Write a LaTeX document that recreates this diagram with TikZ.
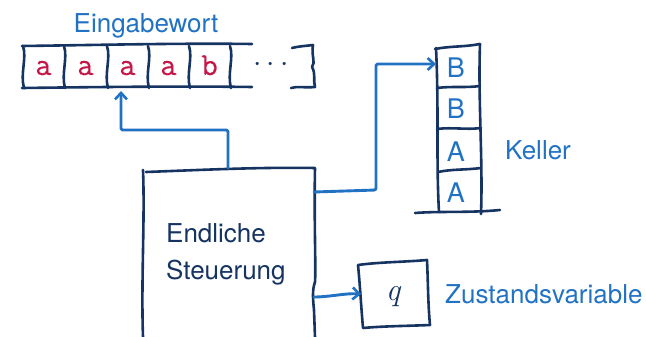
\RequirePackage{fix-cm}
\documentclass[tikz,border=0pt]{standalone}
\usepackage{fontspec}
\setmainfont{TeX Gyre Heros}
\newfontfamily\lmroman{Latin Modern Roman}
\newfontfamily\lmmono[FakeBold=0.4]{Latin Modern Mono}
\usetikzlibrary{arrows.meta}
\definecolor{ink}{RGB}{22,52,98}
\definecolor{pen}{RGB}{34,114,196}
\definecolor{sym}{RGB}{196,22,72}
\begin{document}
\begin{tikzpicture}[x=1pt,y=-1pt,
  sketch/.style={draw=ink,line width=2.6pt,line cap=round,line join=round},
  arrowline/.style={draw=pen,line width=2.9pt,line cap=round,line join=round,rounded corners=2pt,
    -{Straight Barb[length=6.5pt,width=12pt,line width=2.6pt]}},
  lbl/.style={text=pen,font=\fontsize{26}{30}\selectfont,inner sep=0pt},
  steuer/.style={text=ink,font=\fontsize{26}{30}\selectfont,inner sep=0pt,anchor=base west},
  tapesym/.style={text=sym,font=\lmmono\fontsize{32}{32}\selectfont,inner sep=0pt,anchor=base},
  stacksym/.style={text=pen,font=\fontsize{27}{30}\selectfont,inner sep=0pt,anchor=base},
]
\useasboundingbox (0,0) rectangle (646,337);

% ---- input tape ----
\node[lbl,anchor=base] (title) at (146,33) {Eingabewort};
\draw[sketch] (22,46) .. controls (100,45) and (180,43) .. (252,44);
\draw[sketch] (22,88) .. controls (100,87) and (180,86) .. (252,87);
\foreach \x in {23,64,107,148,189,230}
  \draw[sketch] (\x,46) .. controls (\x+4,58) and (\x-3,74) .. (\x+1,88);
\node[tapesym] (t1) at (43.5,75) {a};
\node[tapesym] (t2) at (85.5,75) {a};
\node[tapesym] (t3) at (127.5,75) {a};
\node[tapesym] (t4) at (168.5,75) {a};
\node[tapesym] (t5) at (209.5,75) {b};
\node[text=ink,font=\fontsize{30}{30}\selectfont,inner sep=0pt] (dots) at (271,65) {$\cdots$};
\draw[sketch] (292,48) .. controls (300,46) and (306,46) .. (313,45)
  .. controls (311,56) and (316,62) .. (312,67)
  .. controls (316,74) and (313,80) .. (315,87)
  .. controls (305,88) and (297,86) .. (291,88);
\coordinate (tapehead) at (121,91);

% ---- finite control ----
\draw[sketch] (143,337) .. controls (141,280) and (145,220) .. (143,170);
\draw[sketch] (146,172) .. controls (200,170) and (260,167) .. (315,168)
  .. controls (314,220) and (316,270) .. (315,282)
  .. controls (312,290) and (313,300) .. (314,310)
  -- (315,337);
\node[steuer] (endl) at (166,242) {Endliche};
\node[steuer] (steu) at (166,279) {Steuerung};
\coordinate (ctrlTop) at (228,168);
\coordinate (ctrlR1) at (314,192);
\coordinate (ctrlR2) at (314,297);

% ---- stack ----
\draw[sketch] (436,48) .. controls (439,110) and (436,160) .. (439,212);
\draw[sketch] (480,44) .. controls (478,100) and (483,160) .. (481,214);
\draw[sketch] (435,49) .. controls (450,46) and (465,47) .. (480,44);
\draw[sketch] (437,88) .. controls (452,86) and (466,88) .. (480,86);
\draw[sketch] (437,129) .. controls (452,127) and (466,130) .. (481,128);
\draw[sketch] (438,172) .. controls (452,169) and (466,170) .. (481,168);
\draw[sketch] (415,213) .. controls (440,211) and (470,213) .. (500,210);
\node[stacksym] (s1) at (456,78) {B};
\node[stacksym] (s2) at (456,119) {B};
\node[stacksym] (s3) at (456,161) {A};
\node[stacksym] (s4) at (456,202) {A};
\node[lbl,anchor=base west] (keller) at (505,159) {Keller};
\coordinate (stackhead) at (436,64);

% ---- state register ----
\draw[sketch] (358,265) .. controls (380,262) and (405,262) .. (427,260)
  .. controls (428,280) and (428,305) .. (430,325)
  .. controls (408,326) and (385,326) .. (363,328)
  .. controls (361,305) and (360,285) .. (358,265);
\node[text=ink,font=\lmroman\itshape\fontsize{32}{32}\selectfont,inner sep=0pt,anchor=base] (q) at (393,300) {q};
\coordinate (qhead) at (361,294);
\node[lbl,anchor=base west] (zustand) at (445,303) {Zustandsvariable};

% ---- connectors ----
\draw[arrowline] (ctrlTop) -- (ctrlTop |- 0,130) -- (tapehead |- 0,130) -- (tapehead);
\draw[arrowline] (ctrlR1) -- (376,190) -- (376,64) -- (stackhead);
\draw[arrowline] (ctrlR2) .. controls (330,297) and (345,293) .. (qhead);
\end{tikzpicture}
\end{document}
